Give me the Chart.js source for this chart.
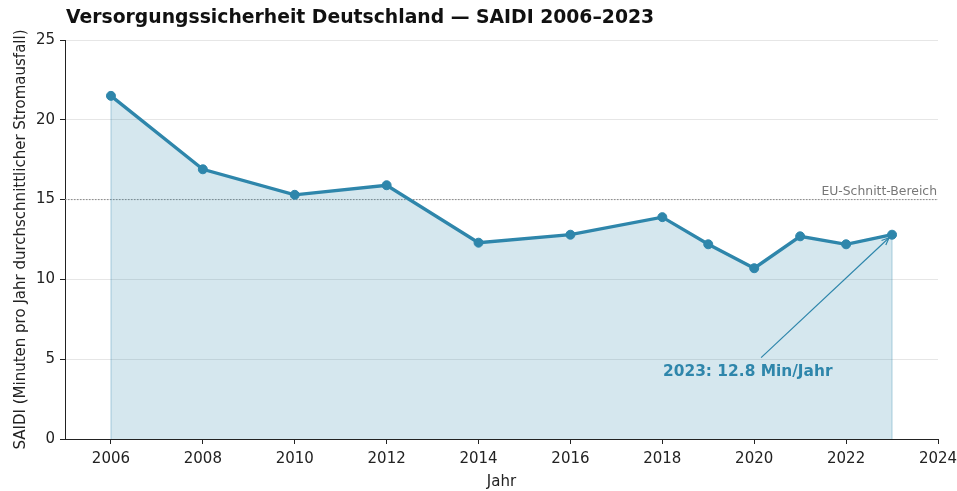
<!DOCTYPE html>
<html lang="de">
<head>
<meta charset="utf-8">
<title>SAIDI Deutschland</title>
<script src="https://cdn.jsdelivr.net/npm/chart.js@4"></script>
<style>
  html, body { margin: 0; padding: 0; background: #fff; }
  #wrap { width: 957px; height: 491px; }
</style>
</head>
<body>
<div id="wrap"><canvas id="saidiChart" width="957" height="491"></canvas></div>
<script>
// ─── Data ─────────────────────────────────────────────
const years = [2006, 2008, 2010, 2012, 2014, 2016, 2018, 2019, 2020, 2021, 2022, 2023];
const saidi = [21.5, 16.9, 15.3, 15.9, 12.3, 12.8, 13.9, 12.2, 10.7, 12.7, 12.2, 12.8];
const xTicks = [2006, 2008, 2010, 2012, 2014, 2016, 2018, 2020, 2022, 2024];
const yTicks = [0, 5, 10, 15, 20, 25];
const euLevel = 15;
const noteText = "2023: 12.8 Min/Jahr";
const notePos = [2019.86, 4.2];
const arrowFrom = [2020.15, 5.1];

const MAIN = "#2E86AB";
const FONT = "'DejaVu Sans', sans-serif";

// ─── Extras: title, EU line, fill edges, annotation ───
const extras = {
  id: "extras",
  beforeDatasetsDraw(chart) {
    const { ctx, chartArea: a, scales: { x, y } } = chart;
    ctx.save();
    // EU reference line (dotted)
    const yy = y.getPixelForValue(euLevel);
    ctx.strokeStyle = "#888";
    ctx.lineWidth = 1;
    ctx.setLineDash([1.5, 1.5]);
    ctx.beginPath();
    ctx.moveTo(a.left, yy);
    ctx.lineTo(a.right, yy);
    ctx.stroke();
    ctx.setLineDash([]);
    ctx.fillStyle = "#777";
    ctx.font = "12.4px " + FONT;
    ctx.textAlign = "right";
    ctx.textBaseline = "bottom";
    ctx.fillText("EU-Schnitt-Bereich", a.right - 1, yy - 2);
    // fill edges
    ctx.strokeStyle = "rgba(46,134,171,0.3)";
    ctx.lineWidth = 1.2;
    [0, years.length - 1].forEach(i => {
      const px = x.getPixelForValue(years[i]);
      ctx.beginPath();
      ctx.moveTo(px, y.getPixelForValue(0));
      ctx.lineTo(px, y.getPixelForValue(saidi[i]));
      ctx.stroke();
    });
    ctx.restore();
  },
  afterDatasetsDraw(chart) {
    const { ctx, chartArea: a, scales: { x, y } } = chart;
    ctx.save();
    // title
    ctx.fillStyle = "#111";
    ctx.font = "bold 18.8px " + FONT;
    ctx.textAlign = "left";
    ctx.textBaseline = "middle";
    ctx.fillText("Versorgungssicherheit Deutschland \u2014 SAIDI 2006\u20132023", a.left + 1, 18);
    // annotation arrow
    const last = years.length - 1;
    const x0 = x.getPixelForValue(arrowFrom[0]), y0 = y.getPixelForValue(arrowFrom[1]);
    const x1 = x.getPixelForValue(years[last]) - 3, y1 = y.getPixelForValue(saidi[last]) + 3;
    ctx.strokeStyle = MAIN;
    ctx.lineWidth = 1.2;
    ctx.beginPath();
    ctx.moveTo(x0, y0);
    ctx.lineTo(x1, y1);
    ctx.stroke();
    const ang = Math.atan2(y1 - y0, x1 - x0);
    const hl = 8;
    ctx.beginPath();
    ctx.moveTo(x1 - hl * Math.cos(ang - 0.4), y1 - hl * Math.sin(ang - 0.4));
    ctx.lineTo(x1, y1);
    ctx.lineTo(x1 - hl * Math.cos(ang + 0.4), y1 - hl * Math.sin(ang + 0.4));
    ctx.stroke();
    // annotation text
    ctx.fillStyle = MAIN;
    ctx.font = "bold 15.4px " + FONT;
    ctx.textAlign = "center";
    ctx.textBaseline = "middle";
    ctx.fillText(noteText, x.getPixelForValue(notePos[0]), y.getPixelForValue(notePos[1]));
    ctx.restore();
  }
};

// ─── Chart ────────────────────────────────────────────
new Chart(document.getElementById("saidiChart").getContext("2d"), {
  type: "line",
  data: {
    datasets: [{
      label: "SAIDI",
      data: years.map((yr, i) => ({ x: yr, y: saidi[i] })),
      borderColor: MAIN,
      backgroundColor: "rgba(46,134,171,0.2)",
      borderWidth: 3.3,
      fill: "origin",
      tension: 0,
      pointRadius: 4.5,
      pointBackgroundColor: MAIN,
      pointBorderColor: MAIN,
      pointBorderWidth: 1,
    }],
  },
  options: {
    responsive: false,
    animation: false,
    layout: { padding: { top: 40, right: 19, left: 8, bottom: 0 } },
    plugins: { legend: { display: false }, tooltip: { enabled: false }, title: { display: false } },
    scales: {
      x: {
        type: "linear",
        min: 2005, max: 2024,
        afterBuildTicks: s => { s.ticks = xTicks.map(v => ({ value: v })); },
        afterFit: s => { s.height = 52; s.paddingLeft = 0; s.paddingRight = 0; },
        grid: { color: "transparent", tickColor: "#222", tickLength: 5, drawOnChartArea: false },
        border: { display: true, color: "#222", width: 1 },
        ticks: { color: "#222", font: { family: FONT, size: 15 }, padding: 6, maxRotation: 0, callback: v => String(v) },
        title: { display: true, text: "Jahr", color: "#222", font: { family: FONT, size: 15 }, padding: { top: 4, bottom: 0 } },
      },
      y: {
        min: 0, max: 25,
        afterBuildTicks: s => { s.ticks = yTicks.map(v => ({ value: v })); },
        afterFit: s => { s.width = 57; },
        grid: { color: "#e6e6e6", tickColor: "#222", tickLength: 5 },
        border: { display: true, color: "#222", width: 1 },
        ticks: { color: "#222", font: { family: FONT, size: 15 }, padding: 5 },
        title: { display: true, text: "SAIDI (Minuten pro Jahr durchschnittlicher Stromausfall)", color: "#222", font: { family: FONT, size: 15 }, padding: { bottom: 2 } },
      },
    },
  },
  plugins: [extras],
});
</script>
</body>
</html>
